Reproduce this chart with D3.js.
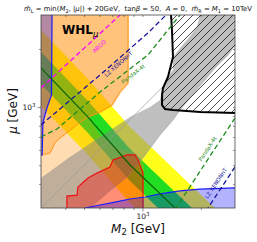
<!DOCTYPE html>
<html>
<head>
<meta charset="utf-8">
<script src="https://cdn.jsdelivr.net/npm/d3@7"></script>
<style>
body { margin: 0; background: #fff; }
text { font-family: "DejaVu Sans", sans-serif; white-space: pre; }
</style>
</head>
<body>
<div id="chart"></div>
<script>
// frame of the plot
const W = 257, H = 242;
const margin = {top: 15, right: 22, bottom: 34, left: 41};
const width = W - margin.left - margin.right;
const height = H - margin.top - margin.bottom;

// axis ranges and ticks [GeV]
const xDomain = [300, 3000];
const yDomain = [300, 3000];
const xMajor = [1000], yMajor = [1000];
const xMinor = [400, 500, 600, 700, 800, 900, 2000];
const yMinor = [400, 500, 600, 700, 800, 900, 2000];

// regions, as [M2, mu] points
const yellowUpper = [[300,2509],[524,1398],[863,789],[1472,472],[2365,300]];
const yellowLower = [[915,300],[863,318],[524,565],[300,1013]];
const greenUpper = [[300,1929],[524,1075],[863,606],[1472,363],[1801,300]];
const greenLower = [[1203,300],[863,414],[524,734],[300,1317]];
const relicCenter = [[300,1594],[524,888],[863,501],[1472,300]];

const g2Sigma2 = [[853,3000],[853,1317],[775,1183],[705,1013],[611,932],[530,878],[604,717],[766,599],[938,578],[1019,501],[1019,300]];
const g2Sigma1 = [[843,3000],[843,1333],[766,1197],[697,1025],[604,943],[524,888],[465,817],[413,743],[376,691],[354,652],[334,578],[304,565],[300,565]];

const grayUpper = [[300,429],[423,551],[604,700],[863,888],[1094,1001],[1232,1088],[1262,1226],[1339,1432],[1437,1557],[1437,1818],[1562,2024],[1697,2226],[1911,2600],[1980,3000]];
const grayLower = [[3000,2098],[2761,1862],[2365,1594],[2101,1382],[1759,1115],[1562,966],[1437,857],[1232,717],[1007,545],[833,434],[641,350],[537,300]];
const diagonal = [[300,300],[3000,3000]];

const redEdge = [[408,300],[408,346],[460,350],[465,385],[524,429],[583,455],[680,489],[705,532],[833,565],[915,565],[949,532],[1007,455],[1007,300]];
const blueLeftEdge = [[342,3000],[340,1155],[322,989],[307,837],[304,565],[300,565]];
const blueBottomEdge = [[506,300],[604,311],[722,322],[863,334],[1031,342],[1232,355],[1562,368],[1980,376],[3000,381]];
const hatchEdge = [[1404,3000],[1420,2509],[1437,1818],[1354,1432],[1276,1256],[1262,1155],[1262,1025],[1307,977],[1437,966],[1980,943],[3000,932]];

const argoLine = [[300,1256],[477,1929],[766,3000]];
const lzLine = [[300,808],[604,1466],[1068,2420],[1323,3000]];
const pandaLine = [[300,700],[363,770],[604,1197],[1068,1862],[1562,3000]];
const pandaLine2 = [[3000,878],[1489,300]];
const lzLine2 = [[3000,489],[2177,300]];

const x = d3.scaleLog().domain(xDomain).range([0, width]);
const y = d3.scaleLog().domain(yDomain).range([height, 0]);
const line = d3.line().x(d => x(d[0])).y(d => y(d[1]));
const [xMin, xMax] = xDomain, [yMin, yMax] = yDomain;

const svg = d3.select("#chart").append("svg").attr("width", W).attr("height", H);
const defs = svg.append("defs");
defs.append("clipPath").attr("id", "clip").append("rect").attr("width", width).attr("height", height);
const pat = defs.append("pattern").attr("id", "hatch")
    .attr("patternUnits", "userSpaceOnUse").attr("width", 8).attr("height", 8);
pat.append("path").attr("d", "M-2,2 L2,-2 M0,8 L8,0 M6,10 L10,6")
    .attr("stroke", "#000").attr("stroke-width", 0.7);

const chart = svg.append("g").attr("transform", "translate(" + margin.left + "," + margin.top + ")");
const plot = chart.append("g").attr("clip-path", "url(#clip)");

function fillArea(pts, color, op) {
    return plot.append("path").attr("d", line(pts) + "Z")
        .attr("fill", color).attr("fill-opacity", op).attr("stroke", "none");
}
function edge(pts, color, w, dash) {
    return plot.append("path").attr("d", line(pts))
        .attr("fill", "none").attr("stroke", color).attr("stroke-width", w)
        .attr("stroke-dasharray", dash || null);
}

// relic density bands
fillArea(yellowUpper.concat(yellowLower), "#ffff1a", 1);
fillArea(greenUpper.concat(greenLower), "#22dd22", 1);

// g-2 regions
fillArea(g2Sigma2.concat([[xMin, yMin], [xMin, yMax]]), "#ff8c00", 0.3);
fillArea(g2Sigma1.concat([[xMin, yMax]]), "#ff8c00", 0.3);
edge(g2Sigma1, "#ff9412", 1);

// gray band
fillArea(grayUpper.concat([[xMax, yMax]], grayLower, [[xMin, yMin]]), "#808080", 0.5);
edge(grayLower, "#a0a0a0", 0.6);
edge(diagonal, "#999", 0.7);

// red region
fillArea(redEdge, "#ff0000", 0.35);
edge(redEdge, "#ee1111", 1.2);

// blue regions
fillArea(blueLeftEdge.concat([[xMin, yMax]]), "#0000ff", 0.3);
edge(blueLeftEdge, "#1a1aff", 1.2);
fillArea(blueBottomEdge.concat([[xMax, yMin]]), "#0000ff", 0.3);
edge(blueBottomEdge, "#1a1aff", 1.2);

// hatched exclusion
fillArea(hatchEdge.concat([[xMax, yMax]]), "url(#hatch)", 1);
edge(hatchEdge, "#000", 2);

// relic centre line
edge(relicCenter, "#0a640a", 1.2);

// direct detection limits
const dd = [
    {pts: argoLine, color: "#ff00ff", label: "ARGO", frac: 0.66, off: 9},
    {pts: lzLine, color: "#14149a", label: "LZ XENONnT", frac: 0.59, off: 4},
    {pts: pandaLine, color: "#1e8c1e", label: "PandaX-4t", frac: 0.6, off: 6},
    {pts: pandaLine2, color: "#1e8c1e", label: "PandaX-4t", frac: 0.38, off: -6},
    {pts: lzLine2, color: "#14149a", label: "LZ XENONnT", frac: 0.49, off: -7}
];
dd.forEach(function (d) {
    const p = edge(d.pts, d.color, 1.3, "5,3");
    const node = p.node();
    const L = node.getTotalLength();
    const a = node.getPointAtLength(L * d.frac);
    const b = node.getPointAtLength(L * d.frac + 1);
    let ang = Math.atan2(b.y - a.y, b.x - a.x) * 180 / Math.PI;
    if (ang > 90) ang -= 180;
    if (ang < -90) ang += 180;
    chart.append("text")
        .attr("transform", "translate(" + a.x + "," + a.y + ") rotate(" + ang + ")")
        .attr("y", d.off).attr("dy", "0.35em")
        .attr("text-anchor", "middle").attr("font-size", 5.5)
        .attr("fill", d.color).text(d.label);
});

// axes
function styleAxis(g) {
    g.select(".domain").remove();
    g.selectAll("line").attr("stroke", "#444").attr("stroke-width", 0.6);
}
function pow10(g) {
    g.selectAll("text").attr("font-size", 7.5).attr("fill", "#222").each(function () {
        const t = d3.select(this);
        t.text("10");
        t.append("tspan").attr("dy", -3).attr("font-size", 5.5).text("3");
    });
}
chart.append("g").attr("transform", "translate(0," + height + ")")
    .call(d3.axisBottom(x).tickValues(xMinor).tickSize(2).tickFormat("")).call(styleAxis);
chart.append("g").attr("transform", "translate(0," + height + ")")
    .call(d3.axisBottom(x).tickValues(xMajor).tickSize(3.5).tickPadding(2)).call(styleAxis).call(pow10);
chart.append("g")
    .call(d3.axisLeft(y).tickValues(yMinor).tickSize(2).tickFormat("")).call(styleAxis);
chart.append("g")
    .call(d3.axisLeft(y).tickValues(yMajor).tickSize(3.5).tickPadding(2)).call(styleAxis).call(pow10);
chart.append("g").attr("transform", "translate(" + width + ",0)")
    .call(d3.axisLeft(y).tickValues(yMinor.concat(yMajor)).tickSize(2).tickFormat("")).call(styleAxis);
chart.append("g")
    .call(d3.axisBottom(x).tickValues(xMinor.concat(xMajor)).tickSize(2).tickFormat("")).call(styleAxis);

chart.append("rect").attr("width", width).attr("height", height)
    .attr("fill", "none").attr("stroke", "#444").attr("stroke-width", 0.8);

// scenario name
const whl = chart.append("text").attr("x", 21).attr("y", 19)
    .attr("font-size", 12).attr("font-weight", "bold").attr("fill", "#000").text("WHL");
whl.append("tspan").attr("dy", 3).attr("font-size", 8.5).attr("font-style", "italic")
    .attr("font-weight", "normal").text("μ");

// rich text helper: [text, kind] with kind "i" italic, "s" subscript
function rich(sel, parts, subSize) {
    let shift = 0;
    parts.forEach(function (p) {
        const want = p[1] === "s" ? 1.6 : 0;
        const ts = sel.append("tspan").attr("dy", want - shift).text(p[0]);
        if (p[1] === "i") ts.attr("font-style", "italic");
        if (p[1] === "s") ts.attr("font-size", subSize);
        shift = want;
    });
}

const title = svg.append("text").attr("x", 138).attr("y", 11)
    .attr("text-anchor", "middle").attr("font-size", 6.9).attr("fill", "#111");
rich(title, [["m\u0303", "i"], ["L", "s"], [" = min(", ""], ["M", "i"], ["2", "s"], [", |", ""],
    ["μ", "i"], ["|) + 20GeV,  tan", ""], ["β", "i"], [" = 50,  ", ""], ["A", "i"], [" = 0,  ", ""],
    ["m\u0303", "i"], ["R", "s"], [" = ", ""], ["M", "i"], ["1", "s"], [" = 10TeV", ""]], 5);

const xl = svg.append("text").attr("x", 138).attr("y", 233)
    .attr("text-anchor", "middle").attr("font-size", 12).attr("fill", "#111");
rich(xl, [["M", "i"], ["2", "s"], [" [GeV]", ""]], 8.5);

const yl = svg.append("text").attr("transform", "translate(17,111) rotate(-90)")
    .attr("text-anchor", "middle").attr("font-size", 12).attr("fill", "#111");
rich(yl, [["μ", "i"], [" [GeV]", ""]], 8.5);
</script>
</body>
</html>
